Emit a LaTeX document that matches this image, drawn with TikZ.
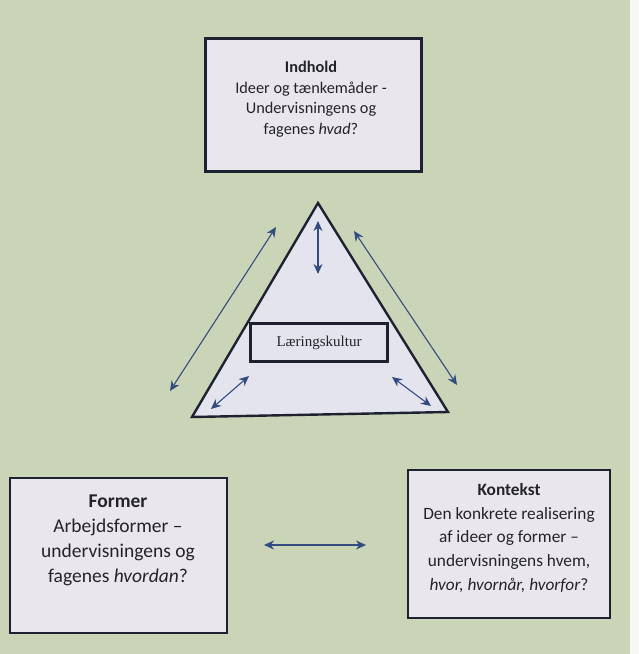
\documentclass[tikz,border=0pt]{standalone}
\usepackage{fontspec}
\setmainfont{Carlito}
\newfontfamily\serifx{Liberation Serif}
\usetikzlibrary{arrows.meta}
\definecolor{bg}{RGB}{202,213,184}
\definecolor{boxfill}{RGB}{234,230,238}
\definecolor{trifill}{RGB}{228,228,238}
\definecolor{edge}{RGB}{30,34,48}
\definecolor{arrowc}{RGB}{50,76,130}
\definecolor{txt}{RGB}{36,36,40}
\tikzset{
  panel/.style={draw=edge, line width=2.6pt, fill=boxfill, inner sep=0pt},
  paneltext/.style={text=txt, align=center, inner sep=0pt},
  link/.style={draw=arrowc, line width=1.1pt, {Stealth[length=10pt,width=9pt]}-{Stealth[length=10pt,width=9pt]}},
}
\begin{document}
\begin{tikzpicture}[x=1pt,y=-1pt]
\fill[bg] (0,0) rectangle (638,654);
\fill[white!85!bg] (630,0) rectangle (638,654);
\useasboundingbox (0,0) rectangle (638,654);

% top box
\node[panel, minimum width=216pt, minimum height=133pt] (indhold) at (313.5,105) {};
\node[paneltext, font=\fontsize{16.3}{20.5}\selectfont] (indholdtxt) at (311,99)
  {\textbf{Indhold}\\Ideer og tænkemåder -\\Undervisningens og\\fagenes \textit{hvad}?};

% triangle
\coordinate (apex) at (318,203);
\coordinate (bl) at (192,417);
\coordinate (br) at (448,412);
\draw[draw=edge, line width=2.4pt, fill=trifill, line join=miter] (apex) -- (br) -- (bl) -- cycle;

\node[draw=edge, line width=2.2pt, fill=trifill, minimum width=137pt, minimum height=38pt, inner sep=0pt,
  font=\serifx\fontsize{15}{17}\selectfont, text=txt] (laering) at (319,342.5) {Læringskultur};

% arrows around triangle
\coordinate (lo1) at (170,391);
\coordinate (lo2) at (276,227);
\coordinate (ro1) at (354,231);
\coordinate (ro2) at (457,385);
\coordinate (tv1) at (318,221);
\coordinate (tv2) at (318,274);
\coordinate (bli1) at (211,409);
\coordinate (bli2) at (249,376);
\coordinate (bri1) at (392,377);
\coordinate (bri2) at (431,406);
\draw[link] (lo1) -- (lo2);
\draw[link] (ro1) -- (ro2);
\draw[link] (tv1) -- (tv2);
\draw[link] (bli1) -- (bli2);
\draw[link] (bri1) -- (bri2);

% left box
\node[panel, minimum width=217pt, minimum height=155pt] (former) at (118.5,555.5) {};
\node[paneltext, font=\fontsize{19.5}{25}\selectfont] (formertxt) at (118,540)
  {\textbf{Former}\\Arbejdsformer –\\undervisningens og\\fagenes \textit{hvordan}?};

% right box
\node[panel, minimum width=202pt, minimum height=148pt] (kontekst) at (509,544) {};
\node[paneltext, font=\fontsize{17.3}{23.8}\selectfont] (kontekstxt) at (509,538)
  {\textbf{Kontekst}\\Den konkrete realisering\\af ideer og former –\\undervisningens hvem,\\\textit{hvor, hvornår, hvorfor}?};

% horizontal arrow
\coordinate (h1) at (264,545);
\coordinate (h2) at (366,545);
\draw[link] (h1) -- (h2);
\end{tikzpicture}
\end{document}
